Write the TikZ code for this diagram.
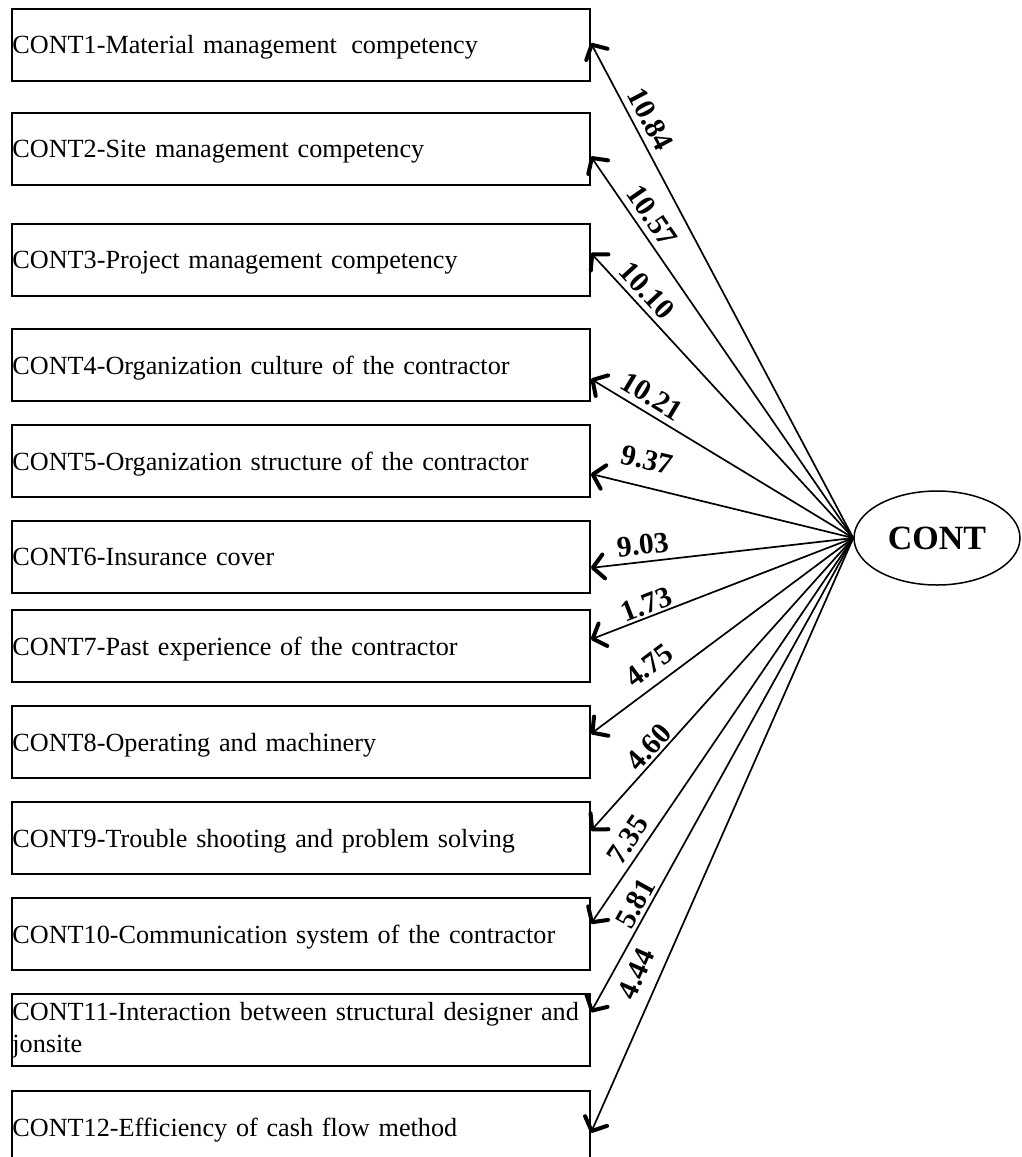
\documentclass[tikz,border=0pt]{standalone}
\usepackage{fontspec}
\setmainfont{Liberation Serif}
\usetikzlibrary{shapes.geometric,arrows.meta}
\begin{document}
\begin{tikzpicture}[x=1pt,y=1pt,
  item/.style={draw, line width=1.8pt, anchor=north west, minimum height=72pt,
    text width=577pt, inner xsep=0.5pt, inner ysep=0pt, align=left, text depth=0pt,
    font=\fontsize{26.2}{32}\selectfont},
  latent/.style={draw, ellipse, line width=1.5pt, minimum width=166pt,
    minimum height=94pt, inner sep=0pt, font=\bfseries\fontsize{34}{40}\selectfont},
  load/.style={line width=1.7pt, -{Straight Barb[length=11pt,width=24pt,line width=4pt 0,round]}},
  coef/.style={sloped, inner sep=1pt, font=\bfseries\fontsize{29.5}{34}\selectfont}
]
\useasboundingbox (0,0) rectangle (1021,-1157);

% indicator boxes
\node[item] (b1)  at (11,-8)    {CONT1-Material management\hspace{0.55em}competency};
\node[item] (b2)  at (11,-112)  {CONT2-Site management competency};
\node[item] (b3)  at (11,-223)  {CONT3-Project management competency};
\node[item] (b4)  at (11,-328)  {CONT4-Organization culture of the contractor};
\node[item] (b5)  at (11,-424)  {CONT5-Organization structure of the contractor};
\node[item] (b6)  at (11,-520)  {CONT6-Insurance cover};
\node[item] (b7)  at (11,-609)  {CONT7-Past experience of the contractor};
\node[item] (b8)  at (11,-705)  {CONT8-Operating and machinery};
\node[item] (b9)  at (11,-801)  {CONT9-Trouble shooting and problem solving};
\node[item] (b10) at (11,-897)  {CONT10-Communication system of the contractor};
\node[item, text depth=] (b11) at (11,-993)  {\mbox{CONT11-Interaction between structural designer and}\\jonsite};
\node[item] (b12) at (11,-1090) {CONT12-Efficiency of cash flow method};

% latent construct
\node[latent] (c) at (937,-538) {CONT};

% loadings
\draw[load] (c.west) -- node[coef, pos=0.83,  above=5pt]  {10.84} ([yshift=2pt]b1.east);
\draw[load] (c.west) -- node[coef, pos=0.82,  above=5pt]  {10.57} ([yshift=-7.5pt]b2.east);
\draw[load] (c.west) -- node[coef, pos=0.83,  above=4pt]  {10.10} ([yshift=7pt]b3.east);
\draw[load] (c.west) -- node[coef, pos=0.80,  above=5pt]  {10.21} ([yshift=-14pt]b4.east);
\draw[load] (c.west) -- node[coef, pos=0.81,  above=15pt] {9.37}  ([yshift=-13pt]b5.east);
\draw[load] (c.west) -- node[coef, pos=0.795, above=5pt]  {9.03}  ([yshift=-11pt]b6.east);
\draw[load] (c.west) -- node[coef, pos=0.77,  above=1pt]  {1.73}  ([yshift=6.5pt]b7.east);
\draw[load] (c.west) -- node[coef, pos=0.733, above=8pt]  {4.75}  ([yshift=8pt]b8.east);
\draw[load] (c.west) -- node[coef, pos=0.743, above=1pt]  {4.60}  ([yshift=7pt]b9.east);
\draw[load] (c.west) -- node[coef, pos=0.806, above=5pt]  {7.35}  ([yshift=10pt]b10.east);
\draw[load] (c.west) -- node[coef, pos=0.784, above=2pt]  {5.81}  ([yshift=17.5pt]b11.east);
\draw[load] (c.west) -- node[coef, pos=0.748, above=11pt] {4.44}  ([yshift=-6pt]b12.east);
\end{tikzpicture}
\end{document}
